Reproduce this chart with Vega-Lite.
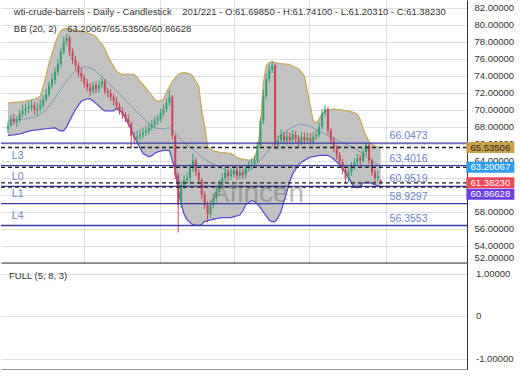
{
"$schema": "https://vega.github.io/schema/vega-lite/v6.json",
"padding": 0,
"spacing": 0,
"bounds": "flush",
"config": {"view": {"stroke": null}, "font": "Liberation Sans", "axis": {"gridColor": "#dedede", "domainColor": "#333333", "ticks": false, "labelColor": "#333333", "labelFontSize": 9.5, "labelFont": "Liberation Sans", "labelOverlap": false}},
"datasets": {
"ohlc": [
{"i":0,"o":67.7,"h":68.5,"l":67.25,"c":68.09,"u":70.77,"m":68.67,"d":66.93},
{"i":1,"o":68.1,"h":69.3,"l":67.9,"c":68.91,"u":70.80,"m":68.71,"d":66.99},
{"i":2,"o":68.9,"h":69.5,"l":68.2,"c":68.56,"u":70.85,"m":68.76,"d":67.03},
{"i":3,"o":68.5,"h":69.2,"l":67.9,"c":68.67,"u":70.88,"m":68.79,"d":67.09},
{"i":4,"o":68.7,"h":70.0,"l":68.5,"c":69.49,"u":70.92,"m":68.83,"d":67.14},
{"i":5,"o":69.5,"h":70.6,"l":69.1,"c":69.84,"u":70.97,"m":68.87,"d":67.23},
{"i":6,"o":69.9,"h":70.7,"l":69.3,"c":70.07,"u":71.00,"m":68.91,"d":67.34},
{"i":7,"o":70.1,"h":70.9,"l":69.6,"c":70.30,"u":71.07,"m":68.98,"d":67.44},
{"i":8,"o":70.3,"h":71.1,"l":69.8,"c":70.53,"u":71.14,"m":69.05,"d":67.52},
{"i":9,"o":70.5,"h":70.9,"l":69.4,"c":69.95,"u":71.21,"m":69.12,"d":67.57},
{"i":10,"o":69.9,"h":70.8,"l":69.2,"c":70.07,"u":71.37,"m":69.28,"d":67.62},
{"i":11,"o":70.1,"h":71.2,"l":69.8,"c":70.53,"u":71.58,"m":69.49,"d":67.66},
{"i":12,"o":70.5,"h":71.7,"l":70.2,"c":71.23,"u":72.74,"m":69.70,"d":67.71},
{"i":13,"o":71.2,"h":72.4,"l":70.9,"c":71.81,"u":74.02,"m":69.99,"d":67.76},
{"i":14,"o":71.8,"h":73.3,"l":71.5,"c":72.86,"u":75.42,"m":70.44,"d":67.79},
{"i":15,"o":72.9,"h":74.2,"l":72.5,"c":73.56,"u":76.58,"m":70.90,"d":67.83},
{"i":16,"o":73.5,"h":75.0,"l":73.0,"c":74.49,"u":77.74,"m":71.35,"d":67.86},
{"i":17,"o":74.4,"h":76.0,"l":74.0,"c":75.42,"u":78.56,"m":71.87,"d":67.65},
{"i":18,"o":75.4,"h":77.3,"l":75.0,"c":76.81,"u":79.26,"m":72.40,"d":67.51},
{"i":19,"o":76.8,"h":78.6,"l":76.5,"c":77.98,"u":79.49,"m":72.92,"d":67.51},
{"i":20,"o":78.0,"h":78.91,"l":77.5,"c":78.44,"u":79.56,"m":73.37,"d":67.98},
{"i":21,"o":78.4,"h":78.7,"l":76.3,"c":76.81,"u":79.49,"m":73.79,"d":68.67},
{"i":22,"o":76.8,"h":77.2,"l":75.4,"c":75.88,"u":79.42,"m":74.21,"d":69.37},
{"i":23,"o":75.9,"h":76.3,"l":74.7,"c":75.19,"u":79.35,"m":74.55,"d":70.00},
{"i":24,"o":75.2,"h":75.6,"l":73.8,"c":74.26,"u":79.28,"m":74.72,"d":70.50},
{"i":25,"o":74.3,"h":74.9,"l":73.3,"c":73.79,"u":79.21,"m":74.90,"d":71.00},
{"i":26,"o":73.8,"h":74.2,"l":72.6,"c":73.09,"u":79.14,"m":75.07,"d":71.13},
{"i":27,"o":73.1,"h":73.6,"l":72.1,"c":72.63,"u":79.02,"m":74.97,"d":71.26},
{"i":28,"o":72.6,"h":73.1,"l":71.6,"c":72.16,"u":78.91,"m":74.86,"d":71.26},
{"i":29,"o":72.2,"h":73.3,"l":71.8,"c":72.86,"u":78.79,"m":74.76,"d":71.00},
{"i":30,"o":72.9,"h":73.3,"l":71.9,"c":72.40,"u":78.56,"m":74.51,"d":70.73},
{"i":31,"o":72.4,"h":73.4,"l":72.0,"c":72.86,"u":78.09,"m":74.20,"d":70.42},
{"i":32,"o":72.9,"h":73.9,"l":72.5,"c":73.33,"u":77.74,"m":73.88,"d":70.07},
{"i":33,"o":73.3,"h":73.6,"l":71.8,"c":72.16,"u":77.16,"m":73.56,"d":69.84},
{"i":34,"o":72.2,"h":72.6,"l":71.4,"c":71.93,"u":76.35,"m":73.21,"d":69.84},
{"i":35,"o":71.9,"h":72.4,"l":71.0,"c":71.47,"u":75.65,"m":72.86,"d":69.84},
{"i":36,"o":71.5,"h":71.9,"l":70.5,"c":71.00,"u":75.07,"m":72.51,"d":69.84},
{"i":37,"o":71.0,"h":71.5,"l":70.0,"c":70.42,"u":74.49,"m":72.16,"d":70.19},
{"i":38,"o":70.4,"h":70.8,"l":69.4,"c":69.84,"u":74.26,"m":71.81,"d":69.88},
{"i":39,"o":69.8,"h":70.3,"l":68.9,"c":69.37,"u":74.14,"m":71.47,"d":69.60},
{"i":40,"o":69.4,"h":69.7,"l":68.5,"c":68.91,"u":74.14,"m":71.12,"d":69.02},
{"i":41,"o":68.9,"h":69.4,"l":68.0,"c":68.44,"u":74.14,"m":70.77,"d":68.33},
{"i":42,"o":68.4,"h":68.6,"l":65.42,"c":66.93,"u":74.14,"m":70.42,"d":67.63},
{"i":43,"o":66.9,"h":67.4,"l":66.0,"c":66.58,"u":74.14,"m":70.07,"d":66.85},
{"i":44,"o":66.6,"h":67.5,"l":66.1,"c":66.81,"u":73.79,"m":69.72,"d":66.12},
{"i":45,"o":66.8,"h":67.7,"l":66.4,"c":67.05,"u":73.33,"m":69.37,"d":65.49},
{"i":46,"o":67.0,"h":67.9,"l":66.6,"c":67.28,"u":72.92,"m":69.02,"d":64.84},
{"i":47,"o":67.3,"h":68.1,"l":66.9,"c":67.51,"u":72.51,"m":68.67,"d":64.64},
{"i":48,"o":67.5,"h":68.4,"l":67.1,"c":67.86,"u":72.11,"m":68.33,"d":64.44},
{"i":49,"o":67.9,"h":68.8,"l":67.5,"c":68.21,"u":71.65,"m":67.98,"d":64.57},
{"i":50,"o":68.2,"h":69.2,"l":67.8,"c":68.67,"u":71.16,"m":67.84,"d":64.86},
{"i":51,"o":68.7,"h":69.4,"l":68.2,"c":68.91,"u":71.00,"m":67.80,"d":65.02},
{"i":52,"o":68.9,"h":70.1,"l":68.5,"c":69.60,"u":71.00,"m":67.77,"d":65.12},
{"i":53,"o":69.6,"h":70.6,"l":69.2,"c":70.07,"u":71.27,"m":67.76,"d":65.19},
{"i":54,"o":70.1,"h":71.3,"l":69.7,"c":70.77,"u":72.05,"m":67.81,"d":65.19},
{"i":55,"o":70.8,"h":72.28,"l":70.4,"c":71.47,"u":72.68,"m":67.86,"d":65.19},
{"i":56,"o":71.5,"h":71.7,"l":66.5,"c":66.93,"u":73.33,"m":67.57,"d":64.02},
{"i":57,"o":66.9,"h":67.1,"l":61.8,"c":62.28,"u":73.72,"m":67.28,"d":62.86},
{"i":58,"o":62.3,"h":62.6,"l":55.53,"c":58.79,"u":74.14,"m":66.90,"d":60.53},
{"i":59,"o":58.8,"h":61.6,"l":58.4,"c":61.12,"u":74.29,"m":66.51,"d":58.91},
{"i":60,"o":61.1,"h":62.3,"l":60.6,"c":61.70,"u":74.35,"m":66.13,"d":57.69},
{"i":61,"o":61.7,"h":62.6,"l":61.2,"c":61.93,"u":74.30,"m":65.84,"d":57.05},
{"i":62,"o":61.9,"h":63.6,"l":61.5,"c":63.09,"u":74.21,"m":65.59,"d":56.70},
{"i":63,"o":63.1,"h":64.84,"l":62.7,"c":64.02,"u":73.94,"m":65.35,"d":56.45},
{"i":64,"o":64.0,"h":64.3,"l":62.2,"c":62.63,"u":73.34,"m":65.07,"d":56.40},
{"i":65,"o":62.6,"h":63.0,"l":61.2,"c":61.70,"u":72.74,"m":64.72,"d":56.35},
{"i":66,"o":61.7,"h":62.0,"l":59.5,"c":59.95,"u":69.84,"m":64.37,"d":56.50},
{"i":67,"o":60.0,"h":60.4,"l":58.3,"c":58.79,"u":68.09,"m":64.16,"d":56.81},
{"i":68,"o":58.8,"h":59.2,"l":56.7,"c":57.74,"u":65.65,"m":63.95,"d":56.93},
{"i":69,"o":57.7,"h":59.3,"l":57.3,"c":58.79,"u":65.30,"m":63.74,"d":57.01},
{"i":70,"o":58.8,"h":60.1,"l":58.4,"c":59.60,"u":65.14,"m":63.56,"d":57.09},
{"i":71,"o":59.6,"h":60.9,"l":59.1,"c":60.30,"u":65.07,"m":63.38,"d":57.16},
{"i":72,"o":60.3,"h":61.7,"l":59.9,"c":61.12,"u":65.00,"m":63.21,"d":57.23},
{"i":73,"o":61.1,"h":62.5,"l":60.7,"c":61.93,"u":64.94,"m":63.05,"d":57.28},
{"i":74,"o":61.9,"h":63.2,"l":61.5,"c":62.63,"u":64.91,"m":62.91,"d":57.28},
{"i":75,"o":62.6,"h":63.0,"l":61.6,"c":62.16,"u":64.87,"m":62.77,"d":57.28},
{"i":76,"o":62.2,"h":63.1,"l":61.7,"c":62.40,"u":64.84,"m":62.63,"d":57.28},
{"i":77,"o":62.4,"h":63.4,"l":62.0,"c":62.86,"u":64.61,"m":62.59,"d":57.40},
{"i":78,"o":62.9,"h":63.3,"l":61.7,"c":62.16,"u":64.37,"m":62.56,"d":57.49},
{"i":79,"o":62.2,"h":63.2,"l":61.8,"c":62.63,"u":64.22,"m":62.52,"d":57.59},
{"i":80,"o":62.6,"h":63.0,"l":61.8,"c":62.28,"u":64.16,"m":62.58,"d":58.09},
{"i":81,"o":62.3,"h":63.5,"l":61.9,"c":63.09,"u":64.12,"m":62.69,"d":58.79},
{"i":82,"o":63.1,"h":63.9,"l":62.8,"c":63.33,"u":64.06,"m":62.79,"d":59.04},
{"i":83,"o":63.3,"h":64.2,"l":63.0,"c":63.56,"u":64.09,"m":62.98,"d":59.29},
{"i":84,"o":63.6,"h":64.6,"l":63.2,"c":64.02,"u":64.30,"m":63.33,"d":59.18},
{"i":85,"o":64.0,"h":66.2,"l":63.7,"c":65.77,"u":65.30,"m":63.68,"d":58.88},
{"i":86,"o":65.8,"h":69.1,"l":65.5,"c":68.67,"u":67.86,"m":64.02,"d":58.45},
{"i":87,"o":68.7,"h":72.3,"l":68.3,"c":71.58,"u":73.09,"m":64.44,"d":57.97},
{"i":88,"o":71.6,"h":74.2,"l":71.2,"c":73.56,"u":75.19,"m":64.86,"d":57.47},
{"i":89,"o":73.6,"h":75.3,"l":73.2,"c":74.72,"u":75.54,"m":65.28,"d":56.98},
{"i":90,"o":74.7,"h":75.7,"l":74.3,"c":75.19,"u":75.61,"m":65.72,"d":56.81},
{"i":91,"o":75.2,"h":75.4,"l":65.3,"c":65.77,"u":75.54,"m":66.18,"d":56.81},
{"i":92,"o":65.8,"h":67.0,"l":65.3,"c":66.35,"u":75.47,"m":66.63,"d":57.28},
{"i":93,"o":66.4,"h":67.7,"l":66.0,"c":67.05,"u":75.41,"m":67.01,"d":57.98},
{"i":94,"o":67.0,"h":67.4,"l":65.9,"c":66.35,"u":75.37,"m":67.26,"d":59.16},
{"i":95,"o":66.3,"h":67.5,"l":65.8,"c":66.81,"u":75.34,"m":67.50,"d":60.34},
{"i":96,"o":66.8,"h":67.3,"l":65.9,"c":66.35,"u":75.30,"m":67.74,"d":61.50},
{"i":97,"o":66.4,"h":67.6,"l":65.9,"c":67.05,"u":75.13,"m":67.92,"d":62.45},
{"i":98,"o":67.0,"h":67.5,"l":66.1,"c":66.58,"u":74.95,"m":68.09,"d":62.98},
{"i":99,"o":66.6,"h":67.0,"l":65.6,"c":66.12,"u":74.78,"m":68.27,"d":63.50},
{"i":100,"o":66.1,"h":67.4,"l":65.8,"c":66.81,"u":74.37,"m":68.28,"d":63.81},
{"i":101,"o":66.8,"h":67.3,"l":65.9,"c":66.35,"u":73.91,"m":68.21,"d":64.02},
{"i":102,"o":66.4,"h":67.3,"l":66.0,"c":66.70,"u":72.16,"m":68.14,"d":64.23},
{"i":103,"o":66.7,"h":67.2,"l":65.8,"c":66.23,"u":70.42,"m":68.04,"d":64.40},
{"i":104,"o":66.2,"h":67.4,"l":65.9,"c":66.81,"u":68.67,"m":67.85,"d":64.47},
{"i":105,"o":66.8,"h":67.6,"l":66.4,"c":67.05,"u":68.44,"m":67.66,"d":64.53},
{"i":106,"o":67.0,"h":68.5,"l":66.7,"c":67.98,"u":68.91,"m":67.48,"d":64.61},
{"i":107,"o":68.0,"h":70.1,"l":67.7,"c":69.60,"u":69.49,"m":67.29,"d":64.61},
{"i":108,"o":69.6,"h":70.53,"l":69.2,"c":70.07,"u":69.84,"m":67.11,"d":64.61},
{"i":109,"o":70.1,"h":70.3,"l":67.1,"c":67.51,"u":69.95,"m":66.94,"d":64.61},
{"i":110,"o":67.5,"h":67.8,"l":65.9,"c":66.35,"u":70.00,"m":66.78,"d":64.42},
{"i":111,"o":66.4,"h":66.8,"l":65.0,"c":65.42,"u":70.07,"m":66.62,"d":64.14},
{"i":112,"o":65.4,"h":65.8,"l":64.1,"c":64.60,"u":70.02,"m":66.45,"d":63.86},
{"i":113,"o":64.6,"h":65.0,"l":63.3,"c":63.79,"u":69.98,"m":66.29,"d":63.51},
{"i":114,"o":63.8,"h":64.2,"l":62.4,"c":62.86,"u":69.93,"m":66.12,"d":63.02},
{"i":115,"o":62.9,"h":63.2,"l":61.23,"c":61.93,"u":69.88,"m":65.94,"d":62.54},
{"i":116,"o":61.9,"h":63.1,"l":61.5,"c":62.63,"u":69.84,"m":65.77,"d":62.05},
{"i":117,"o":62.6,"h":63.8,"l":62.2,"c":63.33,"u":69.72,"m":65.59,"d":61.35},
{"i":118,"o":63.3,"h":64.3,"l":62.9,"c":63.79,"u":69.60,"m":65.42,"d":60.86},
{"i":119,"o":63.8,"h":64.8,"l":63.4,"c":64.26,"u":69.49,"m":65.24,"d":60.79},
{"i":120,"o":64.3,"h":64.7,"l":63.5,"c":64.02,"u":68.79,"m":65.02,"d":61.00},
{"i":121,"o":64.0,"h":65.4,"l":63.7,"c":64.95,"u":67.74,"m":64.78,"d":61.35},
{"i":122,"o":65.0,"h":66.12,"l":64.6,"c":65.77,"u":66.93,"m":64.53,"d":61.42},
{"i":123,"o":65.8,"h":66.0,"l":63.6,"c":64.02,"u":66.23,"m":64.28,"d":61.42},
{"i":124,"o":64.0,"h":64.3,"l":62.2,"c":62.63,"u":65.88,"m":64.01,"d":61.29},
{"i":125,"o":62.6,"h":63.0,"l":61.4,"c":61.93,"u":65.71,"m":63.74,"d":61.15},
{"i":126,"o":61.9,"h":62.8,"l":61.5,"c":62.16,"u":65.63,"m":63.48,"d":61.02},
{"i":127,"o":61.6985,"h":61.741,"l":61.2031,"c":61.3823,"u":65.53506,"m":63.20067,"d":60.86628}
],
"levels": [
{"v":66.0473,"lab":"66.0473","L":""},
{"v":63.4016,"lab":"63.4016","L":"L3"},
{"v":60.9519,"lab":"60.9519","L":"L0"},
{"v":58.9297,"lab":"58.9297","L":"L1"},
{"v":56.3553,"lab":"56.3553","L":"L4"}
],
"tags": [
{"v":65.53506,"lab":"65.53506"},
{"v":63.20067,"lab":"63.20067"},
{"v":61.3823,"lab":"61.38230"},
{"v":60.86628,"lab":"60.86628"}
],
"osc": [
{"v":1,"t":"1.00000"},
{"v":0,"t":"0"},
{"v":-1,"t":"-1.00000"}
]
},
"vconcat": [
{
"width": 466,
"height": 262.5,
"data": {"name": "ohlc"},
"layer": [
{"mark": {"type": "area", "color": "#c2c2c2", "opacity": 1},
 "encoding": {
  "x": {"field": "i", "type": "quantitative", "scale": {"domain": [-0.6667, 154.6667], "nice": false, "zero": false},
        "axis": {"orient": "bottom", "values": [26, 51.67, 77, 102.67, 128.67], "tickCount": 100, "labels": false, "grid": true, "domain": true, "title": null}},
  "y": {"field": "u", "type": "quantitative", "scale": {"domain": [52, 82.9], "nice": false, "zero": false},
        "axis": {"orient": "right", "values": [52,54,56,58,60,62,64,66,68,70,72,74,76,78,80,82], "tickCount": 100, "labelExpr": "(datum.value == 60 || datum.value == 62) ? '' : format(datum.value, '.5f')", "labelOverlap": false, "grid": true, "domain": true, "title": null, "labelPadding": 7, "labelFlush": 3}},
  "y2": {"field": "d"}}},
{"mark": {"type": "line", "color": "#c9a95c", "strokeWidth": 1.3},
 "encoding": {"x": {"field": "i", "type": "quantitative"}, "y": {"field": "u", "type": "quantitative"}}},
{"mark": {"type": "line", "color": "#7d98b8", "strokeWidth": 1},
 "encoding": {"x": {"field": "i", "type": "quantitative"}, "y": {"field": "m", "type": "quantitative"}}},
{"mark": {"type": "line", "color": "#5a4fd0", "strokeWidth": 1.3},
 "encoding": {"x": {"field": "i", "type": "quantitative"}, "y": {"field": "d", "type": "quantitative"}}},
{"mark": {"type": "rule", "strokeWidth": 1},
 "encoding": {"x": {"field": "i", "type": "quantitative"}, "y": {"field": "l", "type": "quantitative"}, "y2": {"field": "h"},
  "color": {"condition": {"test": "datum.c >= datum.o", "value": "#34a070"}, "value": "#c8465a"}}},
{"mark": {"type": "bar", "width": 2},
 "encoding": {"x": {"field": "i", "type": "quantitative"}, "y": {"field": "o", "type": "quantitative"}, "y2": {"field": "c"},
  "color": {"condition": {"test": "datum.c >= datum.o", "value": "#34a070"}, "value": "#c8465a"}}},
{"data": {"name": "levels"},
 "mark": {"type": "rule", "color": "#3b3ba6", "strokeWidth": 1.3},
 "encoding": {"y": {"field": "v", "type": "quantitative"}}},
{"data": {"name": "tags"},
 "mark": {"type": "rule", "color": "#1e1e1e", "strokeWidth": 1.3, "strokeDash": [4, 3]},
 "encoding": {"y": {"field": "v", "type": "quantitative"}}},
{"data": {"name": "levels"},
 "mark": {"type": "text", "align": "left", "baseline": "middle", "dy": -7, "fontSize": 10.5, "color": "#6a85c6"},
 "encoding": {"x": {"datum": 130}, "y": {"field": "v", "type": "quantitative"}, "text": {"field": "lab"}}},
{"data": {"name": "levels"},
 "mark": {"type": "text", "align": "left", "baseline": "middle", "dy": -9.5, "fontSize": 10.5, "color": "#6a85c6"},
 "encoding": {"x": {"datum": 1.33}, "y": {"field": "v", "type": "quantitative"}, "text": {"field": "L"}}},
{"data": {"values": [{}]},
 "mark": {"type": "text", "align": "left", "baseline": "middle", "fontSize": 9.5, "color": "#333333",
          "text": "wti-crude-barrels - Daily - Candlestick\u00a0\u00a0\u00a0\u00a0201/221 - O:61.69850 - H:61.74100 - L:61.20310 - C:61.38230"},
 "encoding": {"x": {"datum": 2}, "y": {"datum": 81.43}}},
{"data": {"values": [{}]},
 "mark": {"type": "text", "align": "left", "baseline": "middle", "fontSize": 9.5, "color": "#333333",
          "text": "BB (20, 2)\u00a0\u00a0\u00a0\u00a063.20067/65.53506/60.86628"},
 "encoding": {"x": {"datum": 2}, "y": {"datum": 79.43}}},
{"data": {"values": [{}]},
 "mark": {"type": "text", "align": "center", "baseline": "middle", "fontSize": 28, "color": "#7a7a7a", "opacity": 0.5, "text": "Afincen"},
 "encoding": {"x": {"datum": 85}, "y": {"datum": 60.08}}},
{"data": {"name": "tags"},
 "transform": [{"filter": "datum.lab != '60.86628'"}],
 "mark": {"type": "rect", "width": 48, "height": 11},
 "encoding": {"x": {"datum": 164.33}, "y": {"field": "v", "type": "quantitative"},
  "color": {"field": "lab", "type": "nominal", "legend": null, "scale": {"domain": ["65.53506", "63.20067", "61.38230", "60.86628"], "range": ["#c9a24a", "#2f9df0", "#ea4a57", "#6a40e6"]}}}},
{"data": {"name": "tags"},
 "transform": [{"filter": "datum.lab == '60.86628'"}],
 "mark": {"type": "rect", "width": 48, "height": 11, "yOffset": 7, "color": "#6a40e6"},
 "encoding": {"x": {"datum": 164.33}, "y": {"field": "v", "type": "quantitative"}}},
{"data": {"name": "tags"},
 "transform": [{"filter": "datum.lab != '60.86628'"}],
 "mark": {"type": "text", "align": "center", "baseline": "middle", "fontSize": 9.5},
 "encoding": {"x": {"datum": 164.33}, "y": {"field": "v", "type": "quantitative"}, "text": {"field": "lab"},
  "color": {"condition": {"test": "datum.lab == '65.53506'", "value": "#2a2a2a"}, "value": "#ffffff"}}},
{"data": {"name": "tags"},
 "transform": [{"filter": "datum.lab == '60.86628'"}],
 "mark": {"type": "text", "align": "center", "baseline": "middle", "fontSize": 9.5, "dy": 7, "color": "#ffffff"},
 "encoding": {"x": {"datum": 164.33}, "y": {"field": "v", "type": "quantitative"}, "text": {"field": "lab"}}}
]
},
{
"width": 466,
"height": 106.5,
"layer": [
{"data": {"values": [{}]},
 "mark": {"type": "text", "align": "left", "baseline": "middle", "fontSize": 9.5, "color": "#333333", "text": "FULL (5, 8, 3)"},
 "encoding": {
  "x": {"datum": 2, "type": "quantitative", "scale": {"domain": [-0.6667, 154.6667], "nice": false, "zero": false},
        "axis": {"orient": "bottom", "labels": false, "grid": false, "domain": true, "title": null}},
  "y": {"datum": 0.95, "type": "quantitative", "scale": {"domain": [-1.25, 1.25], "nice": false, "zero": false},
        "axis": {"orient": "right", "values": [-1, 0, 1], "tickCount": 100, "labels": false, "grid": true, "domain": true, "title": null}}}},
{"data": {"name": "osc"},
 "mark": {"type": "text", "align": "left", "baseline": "middle", "fontSize": 9.5, "color": "#333333"},
 "encoding": {"x": {"datum": 157.67}, "y": {"field": "v", "type": "quantitative"}, "text": {"field": "t"}}}
]
}
]
}
